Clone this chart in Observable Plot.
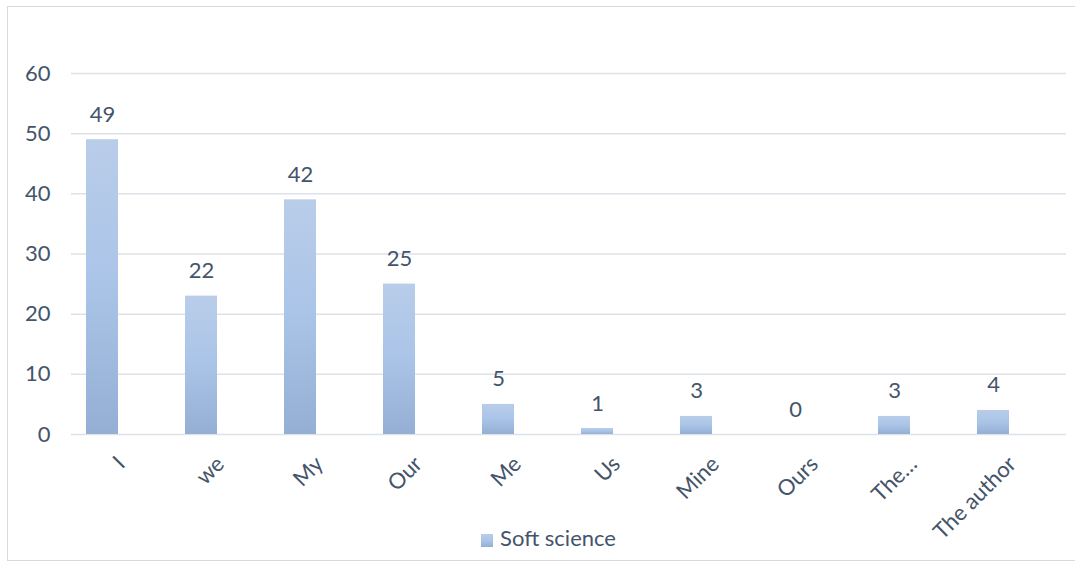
<!DOCTYPE html>
<html>
<head>
<meta charset="utf-8">
<script src="https://cdn.jsdelivr.net/npm/d3@7"></script>
<script src="https://cdn.jsdelivr.net/npm/@observablehq/plot@0.6"></script>
<style>
  body { margin: 0; background: #fff; font-family: Lato, "Open Sans", sans-serif; }
  #frame { position: absolute; left: 7px; top: 6px; width: 1075px; height: 555px; border: 1px solid #d9d9d9; box-sizing: border-box; }
  #chart { position: absolute; left: 0; top: 0; }
  #legend { position: absolute; left: 0; top: 524px; width: 1097px; text-align: center; color: #44546a; font-size: 22px; }
  #legend .sw { display: inline-block; width: 12px; height: 13px; margin-right: 7px; vertical-align: -1px;
    background: linear-gradient(#b9cde9, #aac4e8 50%, #95afd4); }
</style>
</head>
<body>
<div id="frame"></div>
<div id="chart"></div>
<div id="legend"><span class="sw"></span>Soft science</div>
<script>
const categories = ["I", "we", "My", "Our", "Me", "Us", "Mine", "Ours", "The…", "The author"];
const barValues = [49, 23, 39, 25, 5, 1, 3, 0, 3, 4];
const labelTexts = ["49", "22", "42", "25", "5", "1", "3", "0", "3", "4"];
const yTicks = [0, 10, 20, 30, 40, 50, 60];

const data = categories.map((c, i) => ({cat: c, value: barValues[i], label: labelTexts[i]}));
const textColor = "#44546a";
const gridColor = "#dde2e9";

const plot = Plot.plot({
  width: 1075,
  height: 515,
  marginTop: 73,
  marginBottom: 81,
  marginLeft: 50,
  marginRight: 30,
  style: {fontFamily: "Lato, 'Open Sans', sans-serif", fontSize: "22px", color: textColor, background: "transparent", overflow: "visible"},
  x: {domain: categories, paddingInner: 0.68, paddingOuter: 0.34, axis: null},
  y: {domain: [0, 60], axis: null},
  marks: [
    Plot.ruleY(yTicks, {stroke: gridColor, strokeWidth: 1.5, insetLeft: 21, insetRight: -21}),
    Plot.text(yTicks, {x: null, y: d => d, text: d => String(d), frameAnchor: "left", textAnchor: "end", dx: 0, fill: textColor, fontSize: 22}),
    Plot.barY(data, {x: "cat", y: "value", fill: "url(#barGrad)"}),
    Plot.text(data, {x: "cat", y: "value", text: "label", dy: -25, fill: textColor, fontSize: 22}),
    Plot.text(data, {x: "cat", y: 0, text: "cat", rotate: -45, textAnchor: "end", lineAnchor: "middle", dx: 19, dy: 26, fill: textColor, fontSize: 22})
  ]
});

const defs = d3.select(plot).insert("defs", ":first-child");
const g = defs.append("linearGradient").attr("id", "barGrad").attr("x1", 0).attr("y1", 0).attr("x2", 0).attr("y2", 1);
g.append("stop").attr("offset", "0%").attr("stop-color", "#b9cde9");
g.append("stop").attr("offset", "50%").attr("stop-color", "#aac4e8");
g.append("stop").attr("offset", "100%").attr("stop-color", "#95afd4");

document.getElementById("chart").appendChild(plot);
</script>
</body>
</html>
